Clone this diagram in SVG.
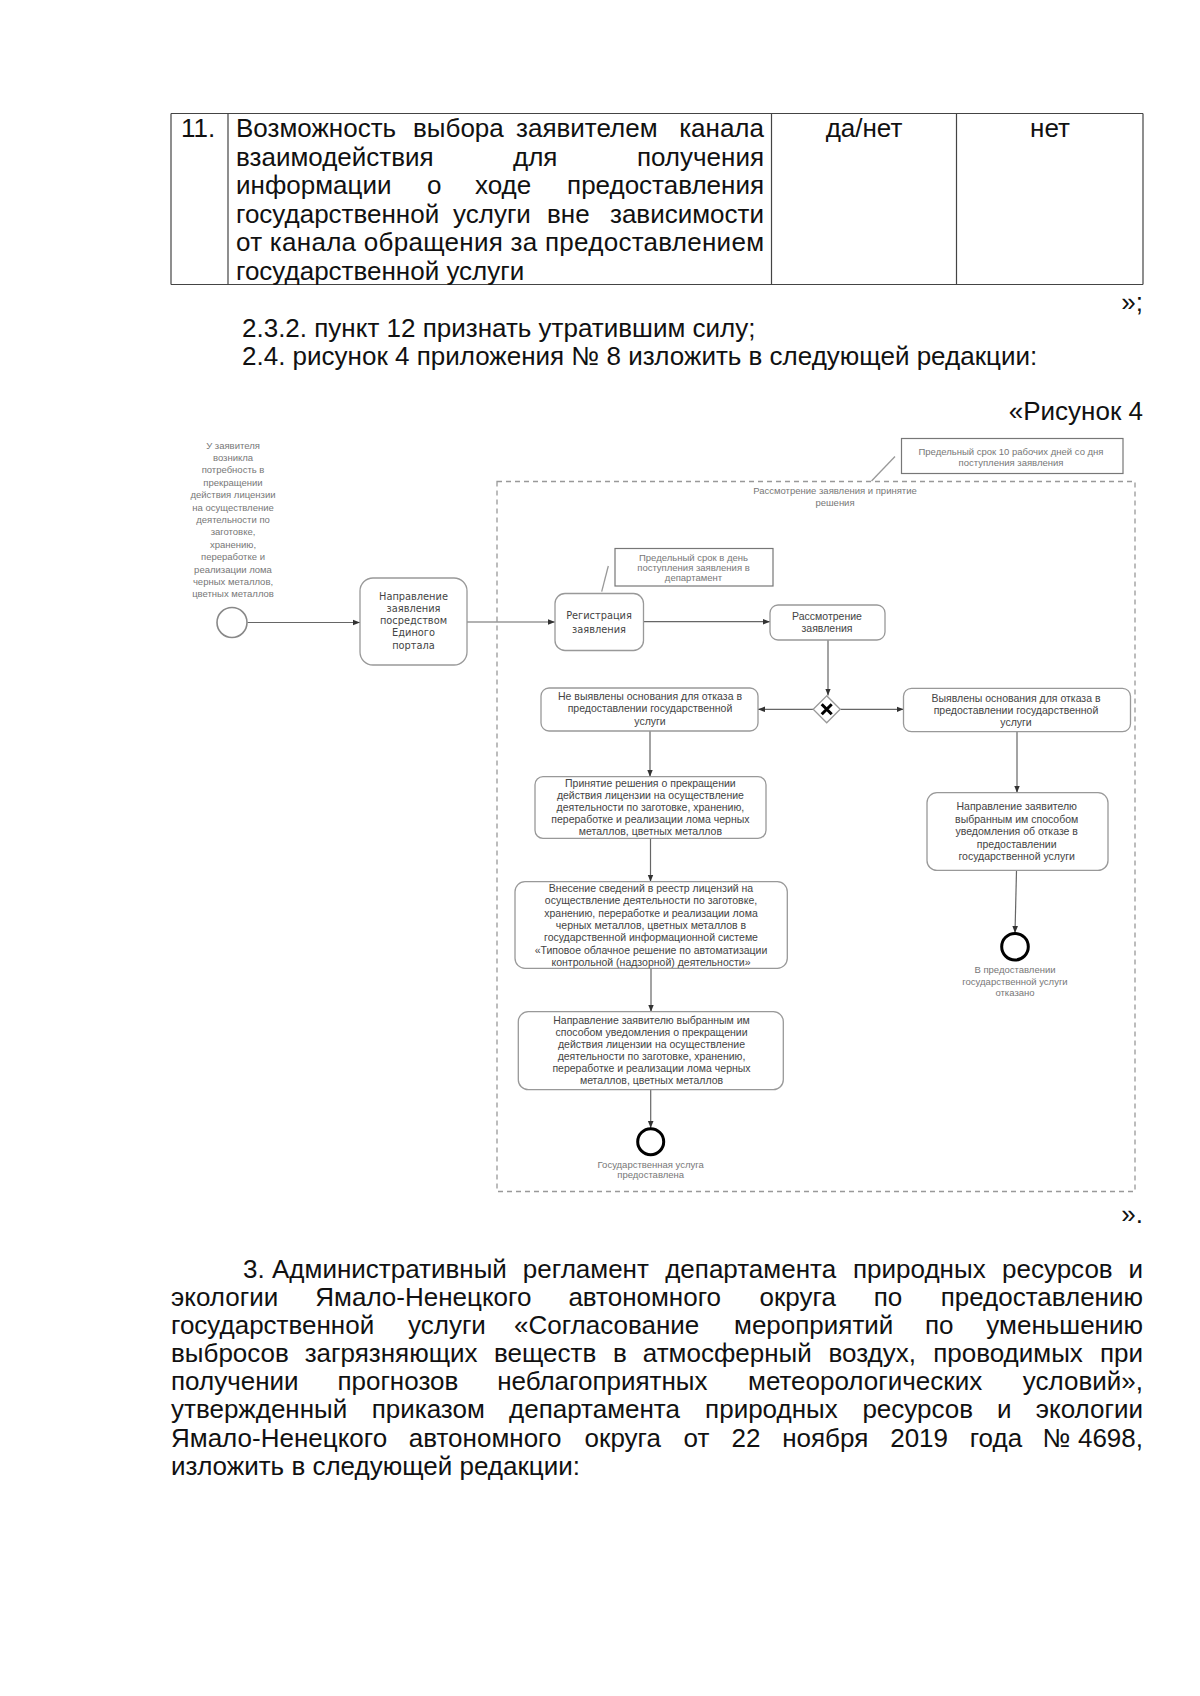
<svg xmlns="http://www.w3.org/2000/svg" width="1200" height="1696" viewBox="0 0 1200 1696">
<style>
.doc{font-family:"Liberation Sans",Arial,sans-serif;font-size:26px;fill:#111}
.end{text-anchor:end}
.mid{text-anchor:middle}
.tl{stroke:#444;stroke-width:1.2;fill:none}
.task{fill:#fff;stroke:#999;stroke-width:1.3}
.t{font-family:"Liberation Sans",Arial,sans-serif;font-size:10.5px;fill:#444;text-anchor:middle}
.w{font-family:"DejaVu Sans",sans-serif;font-size:9.8px}
.lbl{font-family:"Liberation Sans",Arial,sans-serif;font-size:9.5px;fill:#777;text-anchor:middle}
.flow{stroke:#666;stroke-width:1.2;fill:none}
.assoc{stroke:#999;stroke-width:1.3;fill:none}
.ann{fill:#fff;stroke:#777;stroke-width:1.2}
</style>
<defs>
<marker id="ah" viewBox="0 0 10 10" refX="10" refY="5" markerWidth="7" markerHeight="7" markerUnits="userSpaceOnUse" orient="auto"><path d="M0,1 L10,5 L0,9 z" fill="#333"/></marker>
</defs>
<rect width="1200" height="1696" fill="#fff"/>

<g id="table">
<line class="tl" x1="171" y1="113.5" x2="1143" y2="113.5"/>
<line class="tl" x1="171" y1="284.5" x2="1143" y2="284.5"/>
<line class="tl" x1="171" y1="113.5" x2="171" y2="284.5"/>
<line class="tl" x1="228" y1="113.5" x2="228" y2="284.5"/>
<line class="tl" x1="771.5" y1="113.5" x2="771.5" y2="284.5"/>
<line class="tl" x1="956.5" y1="113.5" x2="956.5" y2="284.5"/>
<line class="tl" x1="1143" y1="113.5" x2="1143" y2="284.5"/>
<text class="doc" x="181" y="137">11.</text>
<text class="doc" x="236" y="137">Возможность</text>
<text class="doc" x="413" y="137">выбора</text>
<text class="doc" x="516" y="137">заявителем</text>
<text class="doc end" x="764" y="137">канала</text>
<text class="doc" x="236" y="165.5">взаимодействия</text>
<text class="doc" x="513" y="165.5">для</text>
<text class="doc end" x="764" y="165.5">получения</text>
<text class="doc" x="236" y="194">информации</text>
<text class="doc" x="427" y="194">о</text>
<text class="doc" x="475" y="194">ходе</text>
<text class="doc end" x="764" y="194">предоставления</text>
<text class="doc" x="236" y="222.5">государственной</text>
<text class="doc" x="453" y="222.5">услуги</text>
<text class="doc" x="547" y="222.5">вне</text>
<text class="doc end" x="764" y="222.5">зависимости</text>
<text class="doc" x="236" y="251" textLength="528" lengthAdjust="spacing">от канала обращения за предоставлением</text>
<text class="doc" x="236" y="279.5">государственной услуги</text>
<text class="doc mid" x="864" y="137">да/нет</text>
<text class="doc mid" x="1050" y="137">нет</text>
</g>

<g id="text-top">
<text class="doc end" x="1143" y="311">»;</text>
<text class="doc" x="242" y="337">2.3.2. пункт 12 признать утратившим силу;</text>
<text class="doc" x="242" y="364.5">2.4. рисунок 4 приложения № 8 изложить в следующей редакции:</text>
<text class="doc end" x="1143" y="420">«Рисунок 4</text>
</g>

<g id="container">
<rect x="497" y="481.5" width="638" height="710" fill="none" stroke="#999" stroke-width="1.3" stroke-dasharray="5,4"/>
<text class="lbl" x="835" y="494" font-size="10.4">Рассмотрение заявления и принятие</text>
<text class="lbl" x="835" y="506" font-size="10.4">решения</text>
</g>

<g id="connectors">
<line class="flow" x1="247.5" y1="622.5" x2="360" y2="622.5" marker-end="url(#ah)"/>
<line class="flow" x1="467" y1="622" x2="555" y2="622" marker-end="url(#ah)"/>
<line class="flow" x1="643.5" y1="621.7" x2="770" y2="621.7" marker-end="url(#ah)"/>
<line class="flow" x1="828" y1="640" x2="828" y2="695.5" marker-end="url(#ah)"/>
<line class="flow" x1="813" y1="709.3" x2="758" y2="709.3" marker-end="url(#ah)"/>
<line class="flow" x1="840.5" y1="709.3" x2="903.5" y2="709.3" marker-end="url(#ah)"/>
<line class="flow" x1="650" y1="731" x2="650" y2="776.7" marker-end="url(#ah)"/>
<line class="flow" x1="650.5" y1="838.3" x2="650.5" y2="881.7" marker-end="url(#ah)"/>
<line class="flow" x1="651" y1="968.3" x2="651" y2="1011.7" marker-end="url(#ah)"/>
<line class="flow" x1="650.7" y1="1090" x2="650.7" y2="1128" marker-end="url(#ah)"/>
<line class="flow" x1="1017" y1="731.7" x2="1017" y2="792.7" marker-end="url(#ah)"/>
<line class="flow" x1="1016.5" y1="870.5" x2="1015" y2="933" marker-end="url(#ah)"/>
<line class="assoc" x1="895" y1="456.5" x2="871.5" y2="481"/>
<line class="assoc" x1="608.3" y1="566" x2="601.7" y2="591.7"/>
</g>

<g id="start">
<circle cx="232" cy="622.5" r="15" fill="#fff" stroke="#888" stroke-width="1.6"/>
<text class="lbl w" x="233" y="448.5">У заявителя</text>
<text class="lbl w" x="233" y="460.9">возникла</text>
<text class="lbl w" x="233" y="473.3">потребность в</text>
<text class="lbl w" x="233" y="485.7">прекращении</text>
<text class="lbl w" x="233" y="498.1">действия лицензии</text>
<text class="lbl w" x="233" y="510.5">на осуществление</text>
<text class="lbl w" x="233" y="522.9">деятельности по</text>
<text class="lbl w" x="233" y="535.3">заготовке,</text>
<text class="lbl w" x="233" y="547.7">хранению,</text>
<text class="lbl w" x="233" y="560.1">переработке и</text>
<text class="lbl w" x="233" y="572.5">реализации лома</text>
<text class="lbl w" x="233" y="584.9">черных металлов,</text>
<text class="lbl w" x="233" y="597.3">цветных металлов</text>
</g>

<g id="task-submit">
<rect class="task" x="360" y="578" width="107" height="87" rx="13"/>
<text class="t w" x="413.5" y="600" fill="#666">Направление</text>
<text class="t w" x="413.5" y="612" fill="#666">заявления</text>
<text class="t w" x="413.5" y="624" fill="#666">посредством</text>
<text class="t w" x="413.5" y="636" fill="#666">Единого</text>
<text class="t w" x="413.5" y="648.5" fill="#666">портала</text>
</g>

<g id="annotation-10days">
<rect class="ann" x="901.5" y="438.5" width="221.5" height="35"/>
<text class="lbl" x="1011" y="455" font-size="10" fill="#666">Предельный срок 10 рабочих дней со дня</text>
<text class="lbl" x="1011" y="466" font-size="10" fill="#666">поступления заявления</text>
</g>

<g id="annotation-1day">
<rect class="ann" x="615" y="548.5" width="158" height="37.5"/>
<text class="lbl" x="693.5" y="560.5" font-size="9" fill="#666">Предельный срок в день</text>
<text class="lbl" x="693.5" y="570.5" font-size="9" fill="#666">поступления заявления в</text>
<text class="lbl" x="693.5" y="580.5" font-size="9" fill="#666">департамент</text>
</g>

<g id="task-register">
<rect class="task" x="555" y="593.5" width="88.5" height="57" rx="10"/>
<text class="t w" x="599" y="619">Регистрация</text>
<text class="t w" x="599" y="632.5">заявления</text>
</g>

<g id="task-review">
<rect class="task" x="770" y="605" width="115" height="35" rx="8"/>
<text class="t" x="827" y="620">Рассмотрение</text>
<text class="t" x="827" y="632">заявления</text>
</g>

<g id="gateway">
<path d="M826.7,695.8 L840.2,709.3 L826.7,722.8 L813.2,709.3 Z" fill="#fff" stroke="#999" stroke-width="1.3"/>
<path d="M821.7,704.3 L831.7,714.3 M831.7,704.3 L821.7,714.3" stroke="#000" stroke-width="3"/>
</g>

<g id="task-no-grounds">
<rect class="task" x="541" y="688" width="217" height="43" rx="8"/>
<text class="t" x="650" y="699.5">Не выявлены основания для отказа в</text>
<text class="t" x="650" y="712">предоставлении государственной</text>
<text class="t" x="650" y="724.5">услуги</text>
</g>

<g id="task-grounds">
<rect class="task" x="903.5" y="688.3" width="227" height="43.4" rx="8"/>
<text class="t" x="1016" y="701.5">Выявлены основания для отказа в</text>
<text class="t" x="1016" y="713.5">предоставлении государственной</text>
<text class="t" x="1016" y="726">услуги</text>
</g>

<g id="task-decision">
<rect class="task" x="535" y="776.7" width="231" height="61.6" rx="8"/>
<text class="t" x="650.4" y="787">Принятие решения о прекращении</text>
<text class="t" x="650.4" y="799">действия лицензии на осуществление</text>
<text class="t" x="650.4" y="811">деятельности по заготовке, хранению,</text>
<text class="t" x="650.4" y="823">переработке и реализации лома черных</text>
<text class="t" x="650.4" y="835">металлов, цветных металлов</text>
</g>

<g id="task-registry">
<rect class="task" x="515" y="881.7" width="272.3" height="86.6" rx="10"/>
<text class="t" x="651" y="891.8">Внесение сведений в реестр лицензий на</text>
<text class="t" x="651" y="904.2">осуществление деятельности по заготовке,</text>
<text class="t" x="651" y="916.6">хранению, переработке и реализации лома</text>
<text class="t" x="651" y="929">черных металлов, цветных металлов  в</text>
<text class="t" x="651" y="941.4">государственной информационной системе</text>
<text class="t" x="651" y="953.8">«Типовое облачное решение по автоматизации</text>
<text class="t" x="651" y="966.2">контрольной (надзорной) деятельности»</text>
</g>

<g id="task-notify-grant">
<rect class="task" x="518.3" y="1011.7" width="265" height="78" rx="10"/>
<text class="t" x="651.5" y="1023.5">Направление заявителю выбранным им</text>
<text class="t" x="651.5" y="1035.6">способом уведомления о прекращении</text>
<text class="t" x="651.5" y="1047.7">действия лицензии  на осуществление</text>
<text class="t" x="651.5" y="1059.8">деятельности по заготовке, хранению,</text>
<text class="t" x="651.5" y="1071.9">переработке и реализации лома черных</text>
<text class="t" x="651.5" y="1084">металлов, цветных металлов</text>
</g>

<g id="end-granted">
<circle cx="650.7" cy="1141.7" r="13" fill="#fff" stroke="#000" stroke-width="3"/>
<text class="lbl" x="650.7" y="1168">Государственная услуга</text>
<text class="lbl" x="650.7" y="1178">предоставлена</text>
</g>

<g id="task-notify-refusal">
<rect class="task" x="927" y="792.7" width="181" height="77.7" rx="10"/>
<text class="t" x="1016.7" y="810">Направление заявителю</text>
<text class="t" x="1016.7" y="822.5">выбранным им способом</text>
<text class="t" x="1016.7" y="835">уведомления об отказе в</text>
<text class="t" x="1016.7" y="847.5">предоставлении</text>
<text class="t" x="1016.7" y="860">государственной услуги</text>
</g>

<g id="end-refused">
<circle cx="1015" cy="946.7" r="13.3" fill="#fff" stroke="#000" stroke-width="3"/>
<text class="lbl" x="1015" y="972.5">В предоставлении</text>
<text class="lbl" x="1015" y="984.5">государственной услуги</text>
<text class="lbl" x="1015" y="996">отказано</text>
</g>

<g id="text-bottom">
<text class="doc end" x="1143" y="1223">».</text>
<text class="doc" x="243" y="1278">3.</text>
<text class="doc" x="272" y="1278">Административный</text>
<text class="doc" x="522.8" y="1278">регламент</text>
<text class="doc" x="665.2" y="1278">департамента</text>
<text class="doc" x="853" y="1278">природных</text>
<text class="doc" x="1002" y="1278">ресурсов</text>
<text class="doc end" x="1143" y="1278">и</text>

<text class="doc" x="171" y="1306">экологии</text>
<text class="doc" x="315.3" y="1306">Ямало-Ненецкого</text>
<text class="doc" x="568.4" y="1306">автономного</text>
<text class="doc" x="759.5" y="1306">округа</text>
<text class="doc" x="873.7" y="1306">по</text>
<text class="doc end" x="1143" y="1306">предоставлению</text>

<text class="doc" x="171" y="1334">государственной</text>
<text class="doc" x="408" y="1334">услуги</text>
<text class="doc" x="514" y="1334">«Согласование</text>
<text class="doc" x="734" y="1334">мероприятий</text>
<text class="doc" x="925" y="1334">по</text>
<text class="doc end" x="1143" y="1334">уменьшению</text>

<text class="doc" x="171" y="1362">выбросов</text>
<text class="doc" x="304.7" y="1362">загрязняющих</text>
<text class="doc" x="494" y="1362">веществ</text>
<text class="doc" x="612.9" y="1362">в</text>
<text class="doc" x="642.8" y="1362">атмосферный</text>
<text class="doc" x="828.5" y="1362">воздух,</text>
<text class="doc" x="933.2" y="1362">проводимых</text>
<text class="doc end" x="1143" y="1362">при</text>

<text class="doc" x="171" y="1390">получении</text>
<text class="doc" x="337.4" y="1390">прогнозов</text>
<text class="doc" x="497.2" y="1390">неблагоприятных</text>
<text class="doc" x="748" y="1390">метеорологических</text>
<text class="doc end" x="1143" y="1390">условий»,</text>

<text class="doc" x="171" y="1418">утвержденный</text>
<text class="doc" x="371.7" y="1418">приказом</text>
<text class="doc" x="509" y="1418">департамента</text>
<text class="doc" x="705.1" y="1418">природных</text>
<text class="doc" x="862.4" y="1418">ресурсов</text>
<text class="doc" x="997.1" y="1418">и</text>
<text class="doc end" x="1143" y="1418">экологии</text>

<text class="doc" x="171" y="1447">Ямало-Ненецкого</text>
<text class="doc" x="408.8" y="1447">автономного</text>
<text class="doc" x="584.6" y="1447">округа</text>
<text class="doc" x="683.5" y="1447">от</text>
<text class="doc" x="731.6" y="1447">22</text>
<text class="doc" x="782.2" y="1447">ноября</text>
<text class="doc" x="890.2" y="1447">2019</text>
<text class="doc" x="969.7" y="1447">года</text>
<text class="doc end" x="1143" y="1447">№ 4698,</text>

<text class="doc" x="171" y="1475">изложить в следующей редакции:</text>
</g>
</svg>
